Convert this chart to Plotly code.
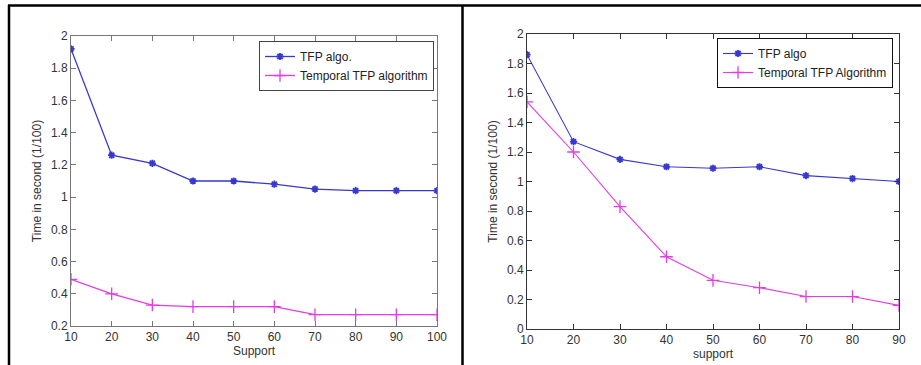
import plotly.graph_objects as go

# Left chart data
support_left = [10, 20, 30, 40, 50, 60, 70, 80, 90, 100]
tfp_left = [1.92, 1.26, 1.21, 1.10, 1.10, 1.08, 1.05, 1.04, 1.04, 1.04]
temporal_left = [0.49, 0.40, 0.33, 0.32, 0.32, 0.32, 0.27, 0.27, 0.27, 0.27]

# Right chart data
support_right = [10, 20, 30, 40, 50, 60, 70, 80, 90]
tfp_right = [1.86, 1.27, 1.15, 1.10, 1.09, 1.10, 1.04, 1.02, 1.00]
temporal_right = [1.54, 1.20, 0.83, 0.49, 0.33, 0.28, 0.22, 0.22, 0.16]

yticks_left = [0.2, 0.4, 0.6, 0.8, 1.0, 1.2, 1.4, 1.6, 1.8, 2.0]
yticks_right = [0, 0.2, 0.4, 0.6, 0.8, 1.0, 1.2, 1.4, 1.6, 1.8, 2.0]

W, H = 921, 365
BLUE = "#3838d0"
MAG = "#e23ce2"
FONT = "Liberation Sans, Arial, sans-serif"


def fx(px):
    return px / W


def fy(py):
    return (H - py) / H


def fmt(v):
    return "%g" % v


fig = go.Figure()

fig.add_trace(go.Scatter(x=support_left, y=tfp_left, name="TFP algo.", mode="lines+markers",
                         line=dict(color=BLUE, width=1.3),
                         marker=dict(symbol="asterisk-open", size=6, color=BLUE, line=dict(color=BLUE, width=1.8)),
                         xaxis="x", yaxis="y", legend="legend"))
fig.add_trace(go.Scatter(x=support_left, y=temporal_left, name="Temporal TFP algorithm", mode="lines+markers",
                         line=dict(color=MAG, width=1.3),
                         marker=dict(symbol="cross-thin-open", size=9, color=MAG, line=dict(color=MAG, width=1.3)),
                         xaxis="x", yaxis="y", legend="legend"))
fig.add_trace(go.Scatter(x=support_right, y=tfp_right, name="TFP algo", mode="lines+markers",
                         line=dict(color=BLUE, width=1.1),
                         marker=dict(symbol="asterisk-open", size=6, color=BLUE, line=dict(color=BLUE, width=1.8)),
                         xaxis="x2", yaxis="y2", legend="legend2"))
fig.add_trace(go.Scatter(x=support_right, y=temporal_right, name="Temporal TFP Algorithm", mode="lines+markers",
                         line=dict(color=MAG, width=1.1),
                         marker=dict(symbol="cross-thin-open", size=9, color=MAG, line=dict(color=MAG, width=1.3)),
                         xaxis="x2", yaxis="y2", legend="legend2"))

axis_common = dict(showgrid=False, zeroline=False, showline=True, linewidth=1,
                   ticks="inside", ticklen=5, tickwidth=1, mirror="ticks", automargin=False,
                   tickfont=dict(size=12, color="#333333", family=FONT))

fig.update_layout(
    template="none",
    width=W, height=H,
    margin=dict(l=0, r=0, t=0, b=0, autoexpand=False),
    paper_bgcolor="white", plot_bgcolor="white",
    font=dict(family=FONT, size=12, color="#333333"),
    xaxis=dict(domain=[fx(71), fx(437)], range=[10, 100], tickvals=support_left,
               linecolor="#777777", tickcolor="#777777", anchor="y",
               title=dict(text="Support", standoff=2, font=dict(size=12)), **axis_common),
    yaxis=dict(domain=[fy(326), fy(36)], range=[0.2, 2.0], tickvals=yticks_left,
               ticktext=[fmt(v) for v in yticks_left],
               linecolor="#777777", tickcolor="#777777", anchor="x",
               title=dict(text="Time in second (1/100)", standoff=6, font=dict(size=12)), **axis_common),
    xaxis2=dict(domain=[fx(527), fx(899)], range=[10, 90], tickvals=support_right,
                linecolor="#333333", tickcolor="#333333", anchor="y2",
                title=dict(text="support", standoff=2, font=dict(size=12)), **axis_common),
    yaxis2=dict(domain=[fy(329), fy(34)], range=[0, 2.0], tickvals=yticks_right,
                ticktext=[fmt(v) for v in yticks_right],
                linecolor="#333333", tickcolor="#333333", anchor="x2",
                title=dict(text="Time in second (1/100)", standoff=6, font=dict(size=12)), **axis_common),
    legend=dict(x=fx(259), y=fy(41), xanchor="left", yanchor="top",
                bordercolor="#444444", borderwidth=1, bgcolor="white",
                font=dict(size=12, color="#222222", family=FONT),
                tracegroupgap=0, itemwidth=30),
    legend2=dict(x=fx(717), y=fy(38), xanchor="left", yanchor="top",
                 bordercolor="#111111", borderwidth=1, bgcolor="white",
                 font=dict(size=12, color="#222222", family=FONT),
                 tracegroupgap=0, itemwidth=30),
    shapes=[
        dict(type="line", xref="paper", yref="paper", x0=fx(8), x1=1, y0=fy(5.5), y1=fy(5.5),
             line=dict(color="black", width=2.5)),
        dict(type="line", xref="paper", yref="paper", x0=fx(9), x1=fx(9), y0=fy(5), y1=0,
             line=dict(color="black", width=2.5)),
        dict(type="line", xref="paper", yref="paper", x0=fx(462.5), x1=fx(462.5), y0=fy(5), y1=0,
             line=dict(color="black", width=2.5)),
    ],
)

fig.write_html("out.html", config={"displayModeBar": False},
               post_script="document.body.style.margin='0';document.body.style.overflow='hidden';")
